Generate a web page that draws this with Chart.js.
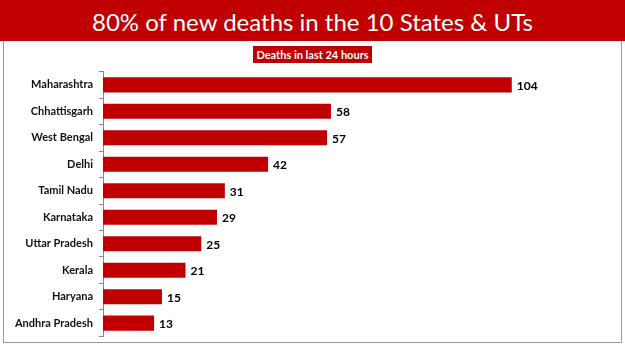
<!DOCTYPE html>
<html>
<head>
<meta charset="utf-8">
<script src="https://cdn.jsdelivr.net/npm/chart.js@4.4.0/dist/chart.umd.min.js"></script>
<style>
    body { margin: 0; width: 625px; height: 351px; background: #fff; position: relative; overflow: hidden; }
    .header {
        position: absolute; left: 0; top: 0; width: 625px; height: 41px;
        background: #C00000; color: #fff; text-align: center;
        font-family: 'Lato', sans-serif; font-size: 24px; line-height: 43px;
    }
    .frame {
        position: absolute; left: 3px; top: 41px; width: 617px; height: 301px;
        border: 1px solid #9a9a9a; border-top: none;
    }
    .subtitle {
        position: absolute; left: 253px; top: 46px; width: 119px; height: 17px;
        background: #C00000; color: #fff; text-align: center;
        font-family: 'Lato', sans-serif; font-weight: bold; font-size: 11px; line-height: 17px;
    }
    .chart-box { position: absolute; left: 4px; top: 59px; width: 615px; height: 290px; }
</style>
</head>
<body>
<div class="header">80% of new deaths in the 10 States &amp; UTs</div>
<div class="frame"></div>
<div class="subtitle">Deaths in last 24 hours</div>
<div class="chart-box"><canvas id="deaths-chart"></canvas></div>
<script>
// ========== DATA ==========
const states = ['Maharashtra', 'Chhattisgarh', 'West Bengal', 'Delhi', 'Tamil Nadu',
    'Karnataka', 'Uttar Pradesh', 'Kerala', 'Haryana', 'Andhra Pradesh'];
const deaths = [104, 58, 57, 42, 31, 29, 25, 21, 15, 13];

// valeurs au bout des barres
const valueLabels = {
    id: 'valueLabels',
    afterDatasetsDraw(chart) {
        const ctx = chart.ctx;
        const meta = chart.getDatasetMeta(0);
        ctx.save();
        ctx.fillStyle = '#000';
        ctx.font = 'bold 12px Lato, sans-serif';
        ctx.textBaseline = 'middle';
        meta.data.forEach((bar, i) => {
            ctx.fillText(deaths[i], bar.x + 5, bar.y + 1);
        });
        ctx.restore();
    }
};

function createDeathsChart() {
    const ctx = document.getElementById('deaths-chart');
    new Chart(ctx, {
        type: 'bar',
        data: {
            labels: states,
            datasets: [{
                data: deaths,
                backgroundColor: '#C00000',
                categoryPercentage: 0.57,
                barPercentage: 1
            }]
        },
        options: {
            responsive: true,
            maintainAspectRatio: false,
            animation: false,
            indexAxis: 'y',
            layout: { padding: { top: 0, bottom: 0, right: 5 } },
            plugins: {
                legend: { display: false },
                tooltip: { enabled: false }
            },
            scales: {
                x: {
                    display: false,
                    min: 0,
                    max: 130
                },
                y: {
                    afterFit(scale) { scale.width = 99; },
                    grid: {
                        offset: true,
                        drawOnChartArea: false,
                        tickLength: 4,
                        color: '#888'
                    },
                    border: { color: '#888' },
                    ticks: {
                        color: '#111',
                        padding: 6,
                        font: { size: 11, weight: 'bold', family: 'Lato' }
                    }
                }
            }
        },
        plugins: [valueLabels]
    });
}

window.addEventListener('load', () => {
    createDeathsChart();
});
</script>
</body>
</html>
